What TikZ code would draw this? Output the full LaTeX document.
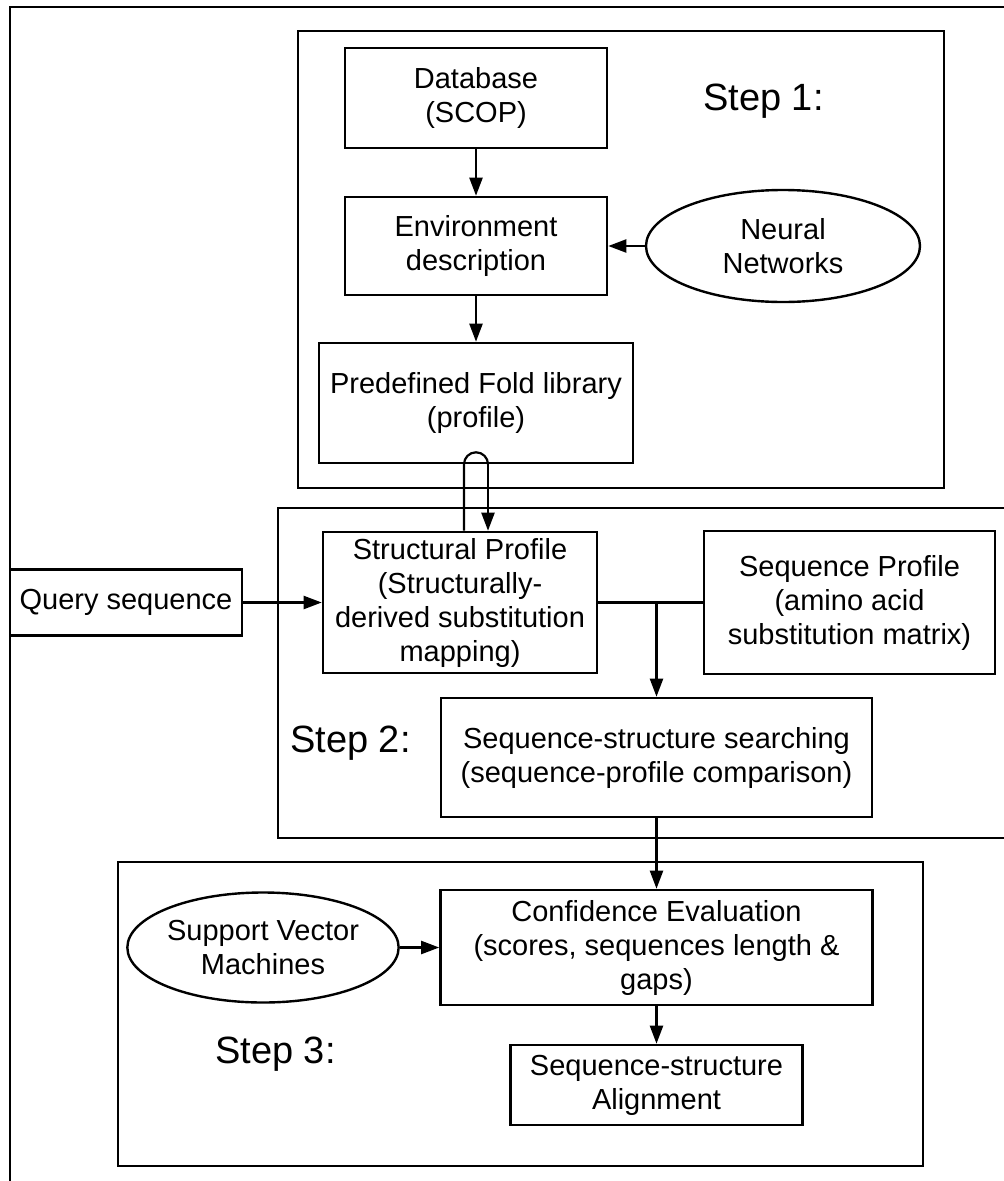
\documentclass[tikz,border=0pt]{standalone}
\usepackage{fontspec}
\setmainfont{Liberation Sans}
\usetikzlibrary{arrows.meta,shapes.geometric,calc}

\tikzset{
  boxnode/.style={draw, line width=2.6pt, rectangle, inner sep=0pt, align=center,
    font=\fontsize{29}{34}\selectfont},
  ovalnode/.style={draw, line width=2.4pt, ellipse, inner sep=0pt, align=center,
    font=\fontsize{29}{34}\selectfont},
  frameline/.style={draw, line width=1.3pt},
  conn/.style={line width=2.2pt},
  arr/.style={line width=2.2pt, -{Triangle[length=18pt,width=13pt]}},
  steplabel/.style={anchor=base west, inner sep=0pt, font=\fontsize{38}{44}\selectfont}
}

\begin{document}
\begin{tikzpicture}[x=1pt,y=1pt]
\useasboundingbox (0,0) rectangle (1004,-1181);

% frames: outer border and the three stages
\draw[frameline] (10,-1200) -- (10,-7) -- (1030,-7);
\draw[frameline] (298,-31) rectangle (944,-488);
\draw[frameline] (1030,-508) -- (278,-508) -- (278,-838) -- (1030,-838);
\draw[frameline] (118,-862) rectangle (923,-1166);

% stage labels
\node[steplabel] (s1) at (703,-110) {Step 1:};
\node[steplabel] (s2) at (290,-752) {Step 2:};
\node[steplabel] (s3) at (215,-1063) {Step 3:};

% stage 1
\node[boxnode, minimum width=262pt, minimum height=100pt] (db) at (476,-98) {Database\\(SCOP)};
\node[boxnode, minimum width=262pt, minimum height=98pt] (env) at (476,-246) {Environment\\description};
\node[ovalnode, minimum width=274pt, minimum height=112pt] (nn) at (783,-246) {Neural\\Networks};
\node[boxnode, minimum width=314pt, minimum height=120pt] (pre) at (476,-403) {Predefined Fold library\\(profile)};

% stage 2
\node[boxnode, minimum width=232pt, minimum height=66pt] (query) at (126,-602.5) {Query sequence};
\node[boxnode, minimum width=274pt, minimum height=141pt] (struct) at (460,-602.5)
  {Structural Profile\\(Structurally-\\derived substitution\\mapping)};
\node[boxnode, minimum width=291pt, minimum height=143pt] (seqp) at (849.5,-602.5)
  {Sequence Profile\\(amino acid\\substitution matrix)};
\node[boxnode, minimum width=431pt, minimum height=119pt] (search) at (656.5,-757.5)
  {Sequence-structure searching\\(sequence-profile comparison)};

% stage 3
\node[ovalnode, minimum width=260pt, minimum height=110pt] (svm) at (263,-947.5) {Support Vector\\Machines};
\node[boxnode, minimum width=432pt, minimum height=115pt] (conf) at (656.5,-947.5)
  {Confidence Evaluation\\(scores, sequences length \&\\gaps)};
\node[boxnode, minimum width=292pt, minimum height=80pt] (align) at (656.5,-1085)
  {Sequence-structure\\Alignment};

% connectors
\draw[arr] (db.south) -- (env.north);
\draw[arr] (nn.west) -- (env.east);
\draw[arr] (env.south) -- (pre.north);
\draw[conn] ($(pre.south |- struct.north)+(-12,0)$) -- ($(pre.south)+(-12,0)$)
  arc[start angle=180, end angle=0, radius=12pt];
\draw[arr] ($(pre.south)+(12,0)$) -- ($(pre.south |- struct.north)+(12,0)$);
\draw[arr] (query.east) -- (struct.west);
\draw[conn] (struct.east) -- (seqp.west);
\draw[arr] (struct.east -| search.north) -- (search.north);
\draw[arr] (search.south) -- (conf.north);
\draw[arr] (svm.east) -- (conf.west);
\draw[arr] (conf.south) -- (align.north);
\end{tikzpicture}
\end{document}
